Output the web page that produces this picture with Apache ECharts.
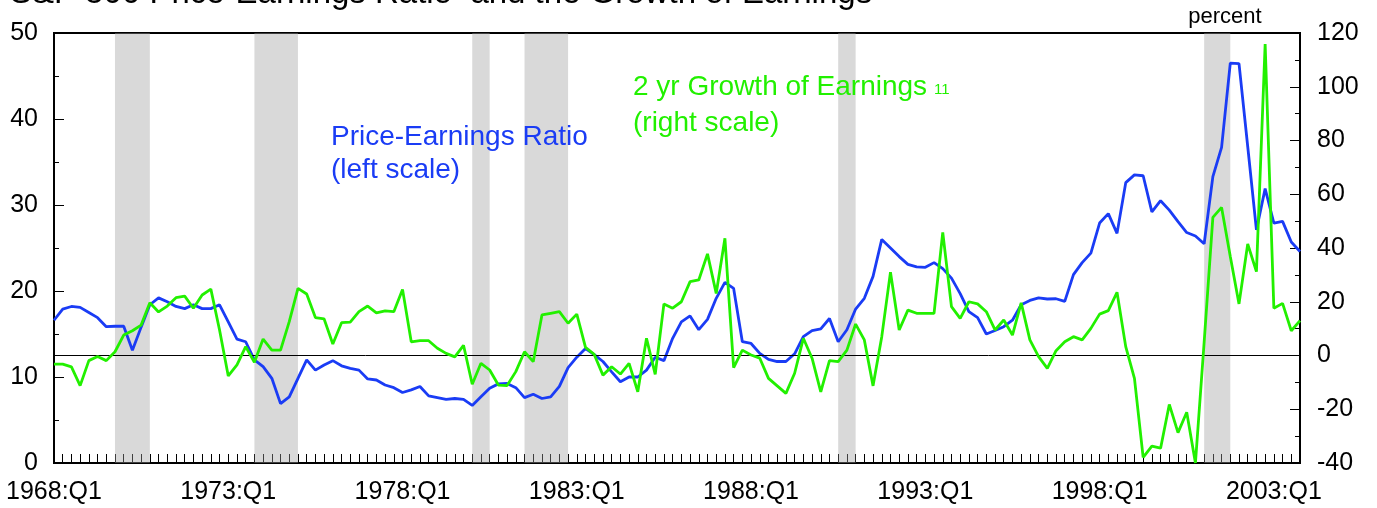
<!DOCTYPE html>
<html>
<head>
<meta charset="utf-8">
<script src="https://cdn.jsdelivr.net/npm/echarts@6/dist/echarts.min.js"></script>
<style>
html,body{margin:0;padding:0;background:#fff;}
#chart{width:1377px;height:508px;}
</style>
</head>
<body>
<div id="chart"></div>
<script>
// ---- data ----
const startYear = 1968;
const quarterCount = 144; // 1968:Q1 .. 2003:Q4
const tickLabels = ['1968:Q1','1973:Q1','1978:Q1','1983:Q1','1988:Q1','1993:Q1','1998:Q1','2003:Q1'];

// Price-Earnings Ratio (left scale)
const peRatio = [
16.6, 17.9, 18.2, 18.1, 17.5, 16.9, 15.85, 15.9, 15.9, 13.1,
15.8, 18.4, 19.2, 18.75, 18.2, 17.95, 18.4, 17.95, 17.95, 18.4,
16.4, 14.4, 14.1, 12.0, 11.2, 9.85, 6.9, 7.7, 9.85, 12.0,
10.8, 11.4, 11.9, 11.3, 11.0, 10.8, 9.77, 9.65, 9.07, 8.76,
8.2, 8.5, 8.9, 7.8, 7.6, 7.4, 7.5, 7.4, 6.7, 7.7,
8.7, 9.2, 9.25, 8.76, 7.6, 8.0, 7.5, 7.7, 8.9, 11.1,
12.3, 13.3, 12.6, 11.8, 10.6, 9.45, 10.0, 10.0, 10.8, 12.3,
11.9, 14.5, 16.4, 17.1, 15.5, 16.7, 19.15, 21.0, 20.3, 14.1,
13.9, 12.75, 12.05, 11.8, 11.8, 12.7, 14.7, 15.4, 15.6, 16.8,
14.1, 15.5, 17.9, 19.15, 21.7, 26.0, 25.0, 24.0, 23.1, 22.8,
22.75, 23.3, 22.6, 21.5, 19.7, 17.6, 16.9, 15.0, 15.4, 15.85,
16.6, 18.4, 18.9, 19.2, 19.07, 19.1, 18.8, 21.9, 23.3, 24.4,
27.9, 29.0, 26.7, 32.6, 33.5, 33.4, 29.2, 30.5, 29.4, 28.06,
26.8, 26.4, 25.5, 33.3, 36.7, 46.5, 46.45, 36.8, 27.1, 31.9,
27.9, 28.1, 25.7, 24.6
];

// 2 yr Growth of Earnings, percent (right scale)
const earningsGrowth = [
-3.2, -3.2, -4.2, -11.2, -1.9, -0.4, -1.9, 1.4, 7.6, 9.2,
11.3, 19.6, 16.2, 18.4, 21.5, 22.1, 17.6, 22.5, 24.7, 9.5,
-7.6, -3.5, 3.3, -2.5, 6.1, 2.0, 2.0, 12.6, 25.0, 22.9,
14.1, 13.6, 4.3, 12.2, 12.4, 16.3, 18.4, 15.9, 16.6, 16.3,
24.6, 5.1, 5.5, 5.5, 2.7, 0.8, -0.5, 3.8, -10.7, -2.9,
-5.4, -11.0, -11.2, -6.0, 1.4, -2.3, 15.1, 15.7, 16.3, 12.0,
15.4, 3.0, 0.4, -7.3, -4.2, -6.9, -2.9, -13.5, 6.4, -7.0,
19.2, 17.6, 20.0, 27.5, 28.1, 37.8, 23.1, 43.6, -4.5, 2.0,
0.2, -1.0, -8.5, -11.3, -14.1, -6.6, 6.4, -1.0, -13.5, -1.9,
-2.3, 2.0, 11.7, 5.8, -11.3, 7.0, 31.0, 9.5, 16.9, 15.7,
15.7, 15.7, 45.8, 18.2, 13.8, 20.0, 19.2, 16.3, 9.5, 13.2,
7.6, 19.6, 5.8, -0.4, -4.8, 1.8, 5.1, 7.0, 5.8, 10.1,
15.4, 16.7, 23.5, 3.3, -8.5, -37.9, -33.7, -34.5, -18.2, -28.7,
-21.1, -40, 5.0, 51.4, 55.1, 36.8, 19.2, 41.5, 31.2, 115.9,
17.6, 19.4, 9.2, 13.0
];

// recession periods (shaded)
const recessions = [
['1969:Q4','1970:Q4'],
['1973:Q4','1975:Q1'],
['1980:Q1','1980:Q3'],
['1981:Q3','1982:Q4'],
['1990:Q3','1991:Q1'],
['2001:Q1','2001:Q4']
];

const categories = [];
for (let i = 0; i < quarterCount; i++) {
  categories.push((startYear + Math.floor(i / 4)) + ':Q' + (i % 4 + 1));
}

const FONT = "'Liberation Sans', Arial, Helvetica, sans-serif";
const BLUE = '#1a3cf5';
const GREEN = '#22f000';

const chart = echarts.init(document.getElementById('chart'), null, {renderer: 'canvas', width: 1377, height: 508});

const axisCommon = {
  axisLine: {show: true, onZero: false, lineStyle: {color: '#000', width: 2}},
  splitLine: {show: false},
};

chart.setOption({
  animation: false,
  backgroundColor: '#fff',
  textStyle: {fontFamily: FONT},
  grid: {left: 54, right: 77, top: 33, bottom: 45, show: true, borderColor: '#000', borderWidth: 2, backgroundColor: 'rgba(0,0,0,0)'},
  xAxis: {
    type: 'category',
    data: categories,
    boundaryGap: false,
    ...axisCommon,
    axisTick: {show: true, inside: true, interval: 0, length: 9, lineStyle: {color: '#000', width: 1}},
    axisLabel: {
      interval: 0,
      color: '#000', fontSize: 25, fontFamily: FONT, margin: 17,
      formatter: function (v) { return tickLabels.indexOf(v) >= 0 ? v : ''; }
    }
  },
  yAxis: [
    {
      type: 'value', position: 'left', min: 0, max: 50, interval: 10,
      ...axisCommon,
      axisTick: {show: true, inside: true, length: 10, lineStyle: {color: '#000', width: 1}},
      minorTick: {show: true, splitNumber: 2, length: 5, lineStyle: {color: '#000', width: 1}},
      axisLabel: {color: '#000', fontSize: 25, fontFamily: FONT, margin: 16}
    },
    {
      type: 'value', position: 'right', min: -40, max: 120, interval: 20,
      ...axisCommon,
      axisTick: {show: true, inside: true, length: 10, lineStyle: {color: '#000', width: 1}},
      minorTick: {show: true, splitNumber: 2, length: 5, lineStyle: {color: '#000', width: 1}},
      axisLabel: {color: '#000', fontSize: 25, fontFamily: FONT, margin: 17}
    }
  ],
  series: [
    {
      name: 'zero', type: 'line', yAxisIndex: 1, data: earningsGrowth, z: 1,
      showSymbol: false, lineStyle: {opacity: 0}, silent: true,
      markLine: {
        silent: true, symbol: ['none', 'none'], label: {show: false},
        lineStyle: {color: '#000', width: 1, type: 'solid'},
        data: [{yAxis: 0}]
      }
    },
    {
      name: 'recession', type: 'line', yAxisIndex: 0, data: peRatio, z: 2,
      showSymbol: false, lineStyle: {opacity: 0}, silent: true,
      markArea: {
        silent: true,
        itemStyle: {color: 'rgba(160,160,160,0.4)'},
        data: recessions.map(r => [{xAxis: r[0]}, {xAxis: r[1]}])
      }
    },
    {
      name: 'Price-Earnings Ratio', type: 'line', yAxisIndex: 0, data: peRatio, z: 4,
      showSymbol: false, symbol: 'none',
      lineStyle: {color: BLUE, width: 2.8}
    },
    {
      name: '2 yr Growth of Earnings', type: 'line', yAxisIndex: 1, data: earningsGrowth, z: 5,
      showSymbol: false, symbol: 'none',
      lineStyle: {color: GREEN, width: 2.8}
    }
  ],
  graphic: [
    {type: 'text', left: 10, top: -23, silent: true, z: 100,
      style: {text: 'S&P 500 Price-Earnings Ratio  and the Growth of Earnings', font: '33px ' + FONT, fill: '#000'}},
    {type: 'text', x: 1225, y: 17, silent: true, z: 100,
      style: {text: 'percent', font: '22px ' + FONT, fill: '#000', align: 'center', verticalAlign: 'middle'}},
    {type: 'text', x: 331, y: 121, silent: true, z: 100,
      style: {text: 'Price-Earnings Ratio\n(left scale)', font: '28px ' + FONT, lineHeight: 33, fill: BLUE, align: 'left', verticalAlign: 'top'}},
    {type: 'text', x: 633, y: 69, silent: true, z: 100,
      style: {text: '2 yr Growth of Earnings\n(right scale)', font: '28px ' + FONT, lineHeight: 36, fill: GREEN, align: 'left', verticalAlign: 'top'}},
    {type: 'text', x: 934, y: 90, silent: true, z: 100,
      style: {text: '11', font: '15px ' + FONT, fill: GREEN, align: 'left', verticalAlign: 'middle'}}
  ]
});
</script>
</body>
</html>
